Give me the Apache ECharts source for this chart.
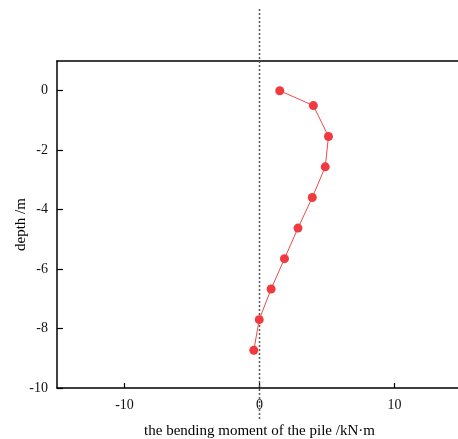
<!DOCTYPE html>
<html>
<head>
<meta charset="utf-8">
<script src="https://cdn.jsdelivr.net/npm/echarts@6/dist/echarts.min.js"></script>
<style>
  html, body { margin: 0; padding: 0; background: #fff; }
  #chart { width: 458px; height: 439px; }
</style>
</head>
<body>
<div id="chart"></div>
<script>
var myChart = echarts.init(document.getElementById('chart'));

// bending moment (kN·m) and depth (m)
var moment = [1.5, 3.99, 5.11, 4.87, 3.91, 2.85, 1.85, 0.86, -0.02, -0.42];
var depth = [0, -0.5, -1.54, -2.56, -3.59, -4.62, -5.65, -6.67, -7.70, -8.73];
var xTicks = [-10, 0, 10];
var yTicks = [-10, -8, -6, -4, -2, 0];
// zero reference line, runs past the frame
var zeroLine = [[0, 2.75], [0, -11.1]];

var font = 'Liberation Serif';
var points = moment.map(function (v, i) { return [v, depth[i]]; });

var option = {
    animation: false,
    grid: {
        left: 57,
        top: 61,
        bottom: 51,
        right: -4,
        outerBoundsMode: 'none',
        containLabel: false
    },
    xAxis: [{
        type: 'value',
        min: -15,
        max: 15,
        name: 'the bending moment of the pile /kN·m',
        nameLocation: 'middle',
        nameGap: 36,
        nameMoveOverlap: false,
        nameTextStyle: { color: '#000', fontFamily: font, fontSize: 15 },
        axisLine: { onZero: false, lineStyle: { color: '#000', width: 1.5 } },
        // negative length so the ticks point into the plot
        axisTick: { show: true, inside: false, length: -5, customValues: xTicks, lineStyle: { color: '#000', width: 1.2 } },
        axisLabel: { customValues: xTicks, color: '#111', fontFamily: font, fontSize: 14, margin: 10 },
        splitLine: { show: false }
    }, {
        type: 'value',
        position: 'top',
        min: -15,
        max: 15,
        axisLine: { show: true, onZero: false, lineStyle: { color: '#000', width: 1.5 } },
        axisTick: { show: false },
        axisLabel: { show: false },
        splitLine: { show: false }
    }],
    yAxis: {
        type: 'value',
        min: -10,
        max: 1,
        name: 'depth /m',
        nameLocation: 'middle',
        nameGap: 28,
        nameMoveOverlap: false,
        nameTextStyle: { color: '#000', fontFamily: font, fontSize: 15 },
        axisLine: { show: true, onZero: false, lineStyle: { color: '#000', width: 1.5 } },
        axisTick: { show: true, inside: false, length: -6, customValues: yTicks, lineStyle: { color: '#000', width: 1.2 } },
        axisLabel: { customValues: yTicks, color: '#111', fontFamily: font, fontSize: 14, margin: 9 },
        splitLine: { show: false }
    },
    series: [
        {
            type: 'line',
            data: zeroLine,
            clip: false,
            symbol: 'none',
            silent: true,
            lineStyle: { color: '#555', width: 1.5, type: [2, 2] },
            z: 1
        },
        {
            type: 'line',
            data: points,
            symbol: 'circle',
            symbolSize: 9,
            lineStyle: { color: '#f04848', width: 1 },
            itemStyle: { color: '#f03a3f' },
            z: 3
        }
    ]
};
myChart.setOption(option);
</script>
</body>
</html>
